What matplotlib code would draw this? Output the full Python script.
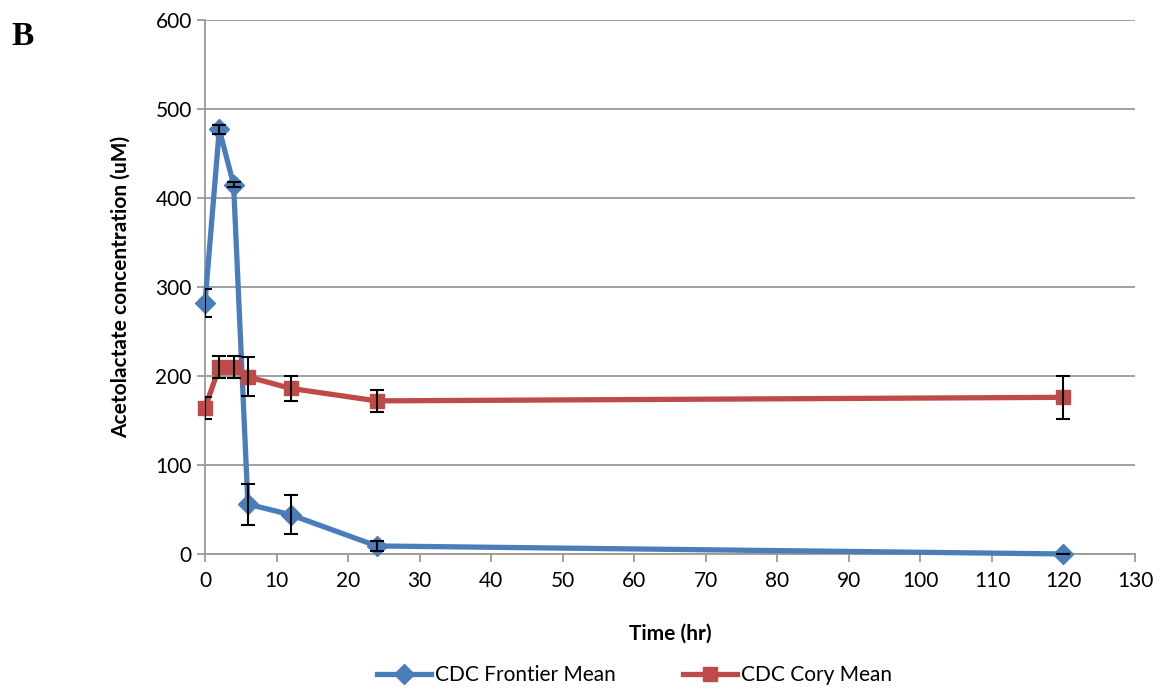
import matplotlib.pyplot as plt

time = [0, 2, 4, 6, 12, 24, 120]

frontier_mean = [282, 477, 415, 56, 44, 9, 0]
frontier_err = [16, 5, 3, 23, 22, 6, 0]

cory_mean = [164, 210, 210, 199, 186, 172, 176]
cory_err = [12, 12, 12, 22, 14, 12, 24]

blue = "#4A7EBB"
red = "#BE4B48"

plt.rcParams['font.family'] = ['Lato', 'DejaVu Sans']

fig = plt.figure(figsize=(11.62, 6.89), dpi=100)
ax = fig.add_axes([0.1764, 0.196, 0.8004, 0.775])

ax.errorbar(time, frontier_mean, yerr=frontier_err, fmt="none", ecolor="black",
            elinewidth=1.5, capsize=5, capthick=1.5, zorder=4)
ax.errorbar(time, cory_mean, yerr=cory_err, fmt="none", ecolor="black",
            elinewidth=1.5, capsize=5, capthick=1.5, zorder=4)

ax.plot(time, frontier_mean, color=blue, lw=3.8, marker="D", markersize=10.5,
        label="CDC Frontier Mean", zorder=3, clip_on=False)
ax.plot(time, cory_mean, color=red, lw=3.8, marker="s", markersize=10,
        label="CDC Cory Mean", zorder=3, clip_on=False)

ax.set_xlim(0, 130)
ax.set_ylim(0, 600)
ax.set_xticks(range(0, 131, 10))
ax.set_yticks(range(0, 601, 100))
ax.yaxis.grid(True, color="#9a9a9a", lw=1.3)
ax.set_axisbelow(True)

for s in ["top", "right"]:
    ax.spines[s].set_visible(False)
for s in ["left", "bottom"]:
    ax.spines[s].set_color("#9a9a9a")
    ax.spines[s].set_linewidth(1.3)
ax.tick_params(axis="both", labelsize=15, color="#9a9a9a", length=6, width=1.3)
ax.tick_params(axis="x", pad=6)

ax.set_xlabel("Time (hr)", fontsize=15, fontweight="bold", labelpad=24)
ax.set_ylabel("Acetolactate concentration (uM)", fontsize=15, fontweight="bold", labelpad=18)

fig.legend(loc="lower center", bbox_to_anchor=(0.546, -0.022), ncol=2, frameon=False,
           fontsize=15, handlelength=2.6, handletextpad=0.2, columnspacing=3.2)

fig.text(0.01, 0.935, "B", fontsize=24, fontweight="bold",
         family=["Liberation Serif", "DejaVu Serif"])

fig.savefig("out.png", dpi=100)
